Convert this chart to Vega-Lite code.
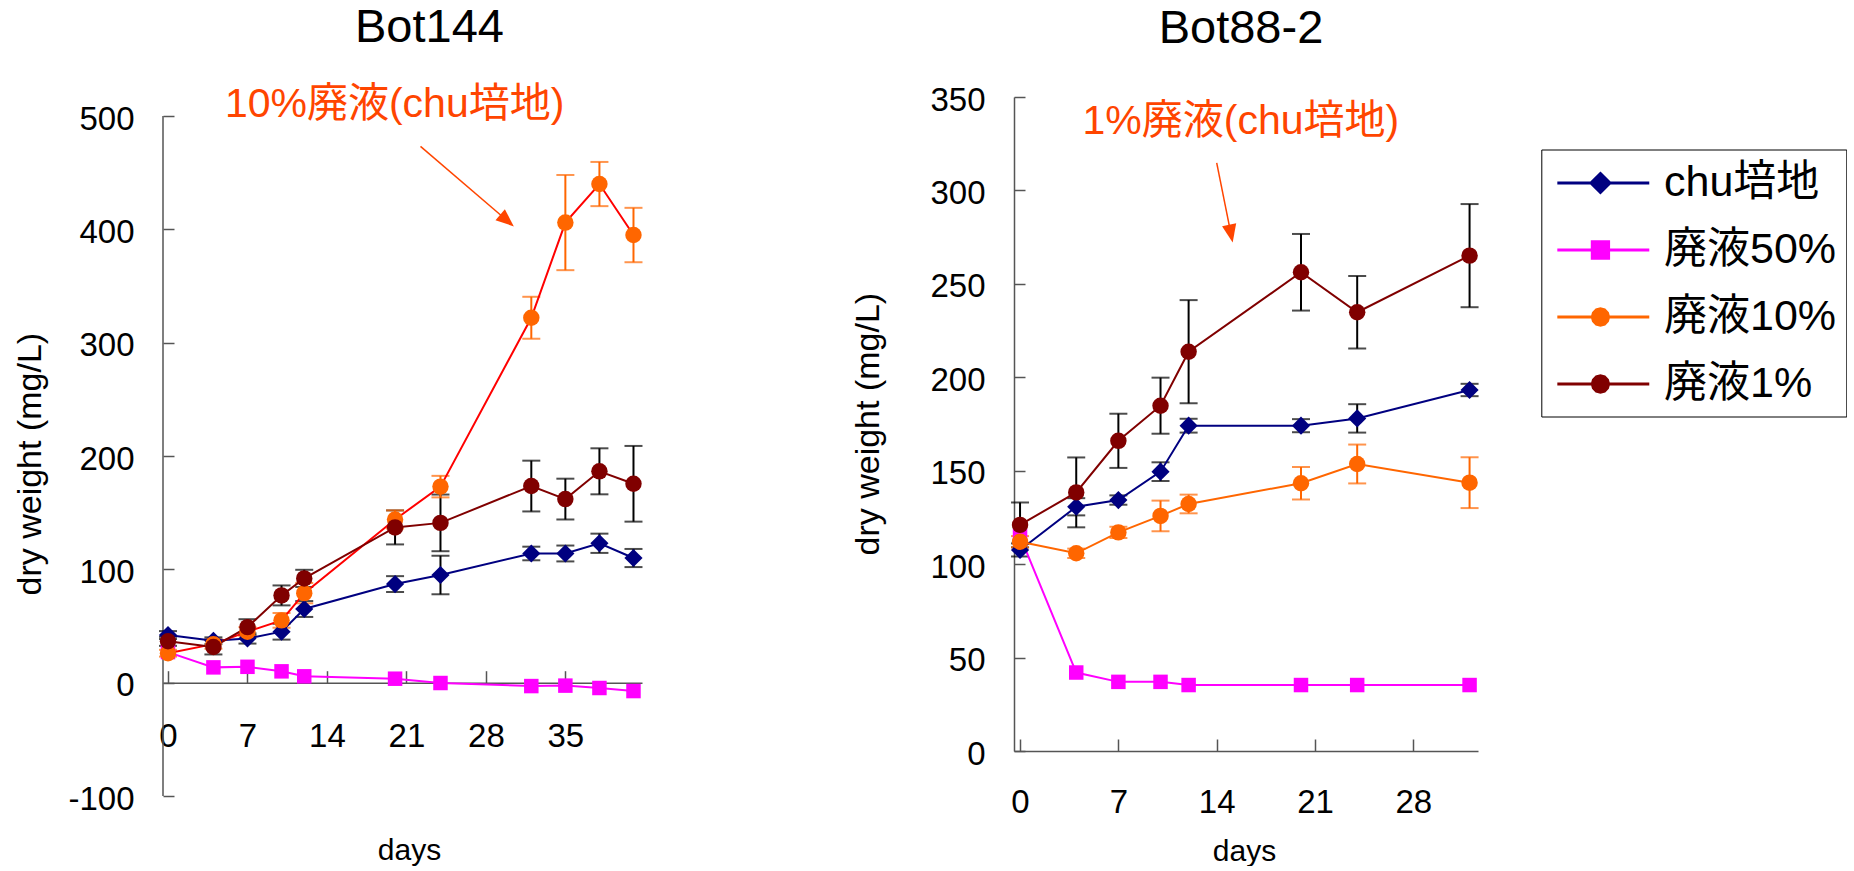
{
  "$schema": "https://vega.github.io/schema/vega-lite/v6.json",
  "padding": {"left": 13, "top": 4, "right": 0, "bottom": 0},
  "spacing": 207,
  "datasets": {
    "b144": [
      {"series": "chu培地", "day": 0, "value": 42, "err": 3.5},
      {"series": "chu培地", "day": 4, "value": 37, "err": 3},
      {"series": "chu培地", "day": 7, "value": 39, "err": 4.5},
      {"series": "chu培地", "day": 10, "value": 45, "err": 7},
      {"series": "chu培地", "day": 12, "value": 65, "err": 7},
      {"series": "chu培地", "day": 20, "value": 87, "err": 7},
      {"series": "chu培地", "day": 24, "value": 95, "err": 17},
      {"series": "chu培地", "day": 32, "value": 114, "err": 6},
      {"series": "chu培地", "day": 35, "value": 114, "err": 7},
      {"series": "chu培地", "day": 38, "value": 123, "err": 8.5},
      {"series": "chu培地", "day": 41, "value": 110, "err": 8},
      {"series": "廃液50%", "day": 0, "value": 27, "err": 1},
      {"series": "廃液50%", "day": 4, "value": 13.5, "err": 1},
      {"series": "廃液50%", "day": 7, "value": 14, "err": 1},
      {"series": "廃液50%", "day": 10, "value": 10, "err": 1},
      {"series": "廃液50%", "day": 12, "value": 5.6, "err": 1},
      {"series": "廃液50%", "day": 20, "value": 3.5, "err": 1},
      {"series": "廃液50%", "day": 24, "value": -0.3, "err": 1},
      {"series": "廃液50%", "day": 32, "value": -3, "err": 1},
      {"series": "廃液50%", "day": 35, "value": -2.6, "err": 1},
      {"series": "廃液50%", "day": 38, "value": -4.7, "err": 1},
      {"series": "廃液50%", "day": 41, "value": -7.4, "err": 1},
      {"series": "廃液10%", "day": 0, "value": 26, "err": 3},
      {"series": "廃液10%", "day": 4, "value": 34, "err": 4},
      {"series": "廃液10%", "day": 7, "value": 45, "err": 4},
      {"series": "廃液10%", "day": 10, "value": 55, "err": 6.5},
      {"series": "廃液10%", "day": 12, "value": 79, "err": 9},
      {"series": "廃液10%", "day": 20, "value": 144, "err": 8},
      {"series": "廃液10%", "day": 24, "value": 173, "err": 9.5},
      {"series": "廃液10%", "day": 32, "value": 322, "err": 18.5},
      {"series": "廃液10%", "day": 35, "value": 406, "err": 42},
      {"series": "廃液10%", "day": 38, "value": 440, "err": 19.5},
      {"series": "廃液10%", "day": 41, "value": 395, "err": 24},
      {"series": "廃液1%", "day": 0, "value": 36.5, "err": 4},
      {"series": "廃液1%", "day": 4, "value": 31.5, "err": 6.6},
      {"series": "廃液1%", "day": 7, "value": 49, "err": 7},
      {"series": "廃液1%", "day": 10, "value": 77, "err": 8.8},
      {"series": "廃液1%", "day": 12, "value": 92, "err": 7.6},
      {"series": "廃液1%", "day": 20, "value": 137, "err": 15},
      {"series": "廃液1%", "day": 24, "value": 141, "err": 25},
      {"series": "廃液1%", "day": 32, "value": 173.5, "err": 22.4},
      {"series": "廃液1%", "day": 35, "value": 162, "err": 18},
      {"series": "廃液1%", "day": 38, "value": 186.5, "err": 20.3},
      {"series": "廃液1%", "day": 41, "value": 175.5, "err": 33.4}
    ],
    "b88": [
      {"series": "chu培地", "day": 0, "value": 107.6, "err": 3.5},
      {"series": "chu培地", "day": 4, "value": 130.7, "err": 4.6},
      {"series": "chu培地", "day": 7, "value": 134.3, "err": 2.5},
      {"series": "chu培地", "day": 10, "value": 149.5, "err": 5},
      {"series": "chu培地", "day": 12, "value": 174.1, "err": 3.7},
      {"series": "chu培地", "day": 20, "value": 174.1, "err": 3.5},
      {"series": "chu培地", "day": 24, "value": 178, "err": 7.6},
      {"series": "chu培地", "day": 32, "value": 193.2, "err": 3.3},
      {"series": "廃液50%", "day": 0, "value": 115, "err": 1},
      {"series": "廃液50%", "day": 4, "value": 42, "err": 1},
      {"series": "廃液50%", "day": 7, "value": 37, "err": 1},
      {"series": "廃液50%", "day": 10, "value": 37, "err": 1},
      {"series": "廃液50%", "day": 12, "value": 35.3, "err": 1},
      {"series": "廃液50%", "day": 20, "value": 35.3, "err": 1},
      {"series": "廃液50%", "day": 24, "value": 35.3, "err": 1},
      {"series": "廃液50%", "day": 32, "value": 35.3, "err": 1},
      {"series": "廃液10%", "day": 0, "value": 112, "err": 3},
      {"series": "廃液10%", "day": 4, "value": 105.8, "err": 2.5},
      {"series": "廃液10%", "day": 7, "value": 117, "err": 3},
      {"series": "廃液10%", "day": 10, "value": 125.8, "err": 8.2},
      {"series": "廃液10%", "day": 12, "value": 132.2, "err": 5},
      {"series": "廃液10%", "day": 20, "value": 143.3, "err": 8.7},
      {"series": "廃液10%", "day": 24, "value": 153.6, "err": 10.4},
      {"series": "廃液10%", "day": 32, "value": 143.6, "err": 13.6},
      {"series": "廃液1%", "day": 0, "value": 121, "err": 12},
      {"series": "廃液1%", "day": 4, "value": 138.4, "err": 18.7},
      {"series": "廃液1%", "day": 7, "value": 166, "err": 14.5},
      {"series": "廃液1%", "day": 10, "value": 184.8, "err": 15},
      {"series": "廃液1%", "day": 12, "value": 213.7, "err": 27.6},
      {"series": "廃液1%", "day": 20, "value": 256.2, "err": 20.5},
      {"series": "廃液1%", "day": 24, "value": 234.8, "err": 19.4},
      {"series": "廃液1%", "day": 32, "value": 265.1, "err": 27.6}
    ]
  },
  "hconcat": [
    {
      "width": 479,
      "height": 699,
      "title": {"text": "Bot144", "fontSize": 47, "fontWeight": "normal", "font": "Liberation Sans", "color": "black", "anchor": "middle", "frame": "group", "dx": 27, "offset": 31.5},
      "layer": [
        {"data": {"values": [{}]}, "mark": {"type": "rule", "color": "#555", "strokeWidth": 1.5},
          "encoding": {"x": {"datum": -0.44, "type": "quantitative", "scale": {"domain": [-0.44, 41.75], "nice": false, "zero": false}},
            "y": {"datum": -100, "type": "quantitative", "scale": {"domain": [-100, 516.8], "nice": false, "zero": false}}, "y2": {"datum": 500}}},
        {"data": {"name": "b144"}, "transform": [{"filter": "datum.series === 'chu培地' || datum.series === '廃液1%'"}],
          "mark": {"type": "errorbar", "ticks": true, "size": 18, "thickness": 2, "color": "black"},
          "encoding": {"x": {"field": "day", "type": "quantitative", "title": "days", "scale": {"domain": [-0.44, 41.75], "nice": false, "zero": false}},
            "y": {"field": "value", "type": "quantitative", "title": "dry weight (mg/L)", "scale": {"domain": [-100, 516.8], "nice": false, "zero": false}},
            "yError": {"field": "err"}}},
        {"data": {"name": "b144"}, "transform": [{"filter": "datum.series === '廃液10%'"}],
          "mark": {"type": "errorbar", "ticks": true, "size": 18, "thickness": 2, "color": "#FF6600"},
          "encoding": {"x": {"field": "day", "type": "quantitative", "title": "days", "scale": {"domain": [-0.44, 41.75], "nice": false, "zero": false}},
            "y": {"field": "value", "type": "quantitative", "title": "dry weight (mg/L)", "scale": {"domain": [-100, 516.8], "nice": false, "zero": false}},
            "yError": {"field": "err"}}},
        {"data": {"name": "b144"},
          "mark": {"type": "line", "strokeWidth": 2},
          "encoding": {
            "x": {"field": "day", "type": "quantitative", "title": "days", "scale": {"domain": [-0.44, 41.75], "nice": false, "zero": false},
              "axis": {"values": [0, 7, 14, 21, 28, 35], "offset": -113.3, "tickSize": -12, "labelPadding": 50, "labelFontSize": 33,
                "title": "days", "titleFontSize": 30, "titleX": 246, "titleY": 177, "titleBaseline": "alphabetic", "titleAlign": "center", "titleAngle": 0}},
            "y": {"field": "value", "type": "quantitative", "title": "dry weight (mg/L)", "scale": {"domain": [-100, 516.8], "nice": false, "zero": false},
              "axis": {"values": [-100, 0, 100, 200, 300, 400, 500], "labelExpr": "replace(datum.label, '−', '-')", "domain": false, "tickSize": -11, "labelPadding": 40, "labelOffset": 3, "labelFontSize": 33,
                "title": "dry weight (mg/L)", "titleFontSize": 34, "titleAngle": 270, "titleBaseline": "alphabetic", "titleAlign": "center", "titleX": -122.7, "titleY": 366.7}},
            "detail": {"field": "series"},
            "color": {"condition": [{"test": "datum.series === 'chu培地'", "value": "#000080"}, {"test": "datum.series === '廃液50%'", "value": "#FF00FF"}, {"test": "datum.series === '廃液10%'", "value": "#FF0000"}], "value": "#800000"}
          }},
        {"data": {"name": "b144"},
          "mark": {"type": "point", "filled": true, "opacity": 1},
          "encoding": {
            "x": {"field": "day", "type": "quantitative", "title": "days", "scale": {"domain": [-0.44, 41.75], "nice": false, "zero": false}},
            "y": {"field": "value", "type": "quantitative", "title": "dry weight (mg/L)", "scale": {"domain": [-100, 516.8], "nice": false, "zero": false}},
            "color": {"condition": [{"test": "datum.series === 'chu培地'", "value": "#000080"}, {"test": "datum.series === '廃液50%'", "value": "#FF00FF"}, {"test": "datum.series === '廃液10%'", "value": "#FF6600"}], "value": "#800000"},
            "shape": {"condition": [{"test": "datum.series === 'chu培地'", "value": "diamond"}, {"test": "datum.series === '廃液50%'", "value": "square"}], "value": "circle"},
            "size": {"condition": [{"test": "datum.series === 'chu培地'", "value": 330}, {"test": "datum.series === '廃液50%'", "value": 210}], "value": 270}
          }},
        {"data": {"values": [{}]},
          "mark": {"type": "text", "text": "10%廃液(chu培地)", "color": "#FF4500", "fontSize": 41, "font": "'Liberation Sans', 'Noto Sans CJK JP', sans-serif", "align": "center", "baseline": "middle"},
          "encoding": {"x": {"datum": 19.96, "type": "quantitative"}, "y": {"datum": 510, "type": "quantitative"}}},
        {"data": {"values": [{}]},
          "mark": {"type": "rule", "color": "#FF4500", "strokeWidth": 1.5},
          "encoding": {"x": {"datum": 22.24, "type": "quantitative"}, "y": {"datum": 473.2, "type": "quantitative"}, "x2": {"datum": 29.86}, "y2": {"datum": 407.8}}},
        {"data": {"values": [{}]},
          "mark": {"type": "point", "shape": "M1,0L-1,-0.8L-1,0.8Z", "size": 324, "angle": 40.6, "filled": true, "color": "#FF4500", "opacity": 1},
          "encoding": {"x": {"datum": 29.86, "type": "quantitative"}, "y": {"datum": 407.8, "type": "quantitative"}}}
      ]
    },
    {
      "width": 464,
      "height": 654,
      "title": {"text": "Bot88-2", "fontSize": 47, "fontWeight": "normal", "font": "Liberation Sans", "color": "black", "anchor": "middle", "frame": "group", "dx": -5, "offset": 31},
      "layer": [
        {"data": {"name": "b88"}, "transform": [{"filter": "datum.series === 'chu培地' || datum.series === '廃液1%'"}],
          "mark": {"type": "errorbar", "ticks": true, "size": 18, "thickness": 2, "color": "black"},
          "encoding": {"x": {"field": "day", "type": "quantitative", "title": "days", "scale": {"domain": [-0.43, 32.6], "nice": false, "zero": false}},
            "y": {"field": "value", "type": "quantitative", "title": "dry weight (mg/L)", "scale": {"domain": [0, 350], "nice": false, "zero": false}},
            "yError": {"field": "err"}}},
        {"data": {"name": "b88"}, "transform": [{"filter": "datum.series === '廃液10%'"}],
          "mark": {"type": "errorbar", "ticks": true, "size": 18, "thickness": 2, "color": "#FF6600"},
          "encoding": {"x": {"field": "day", "type": "quantitative", "title": "days", "scale": {"domain": [-0.43, 32.6], "nice": false, "zero": false}},
            "y": {"field": "value", "type": "quantitative", "title": "dry weight (mg/L)", "scale": {"domain": [0, 350], "nice": false, "zero": false}},
            "yError": {"field": "err"}}},
        {"data": {"name": "b88"},
          "mark": {"type": "line", "strokeWidth": 2},
          "encoding": {
            "x": {"field": "day", "type": "quantitative", "title": "days", "scale": {"domain": [-0.43, 32.6], "nice": false, "zero": false},
              "axis": {"values": [0, 7, 14, 21, 28], "tickSize": -12, "labelPadding": 47, "labelFontSize": 33,
                "title": "days", "titleFontSize": 30, "titleX": 230, "titleY": 109, "titleBaseline": "alphabetic", "titleAlign": "center", "titleAngle": 0}},
            "y": {"field": "value", "type": "quantitative", "title": "dry weight (mg/L)", "scale": {"domain": [0, 350], "nice": false, "zero": false},
              "axis": {"values": [0, 50, 100, 150, 200, 250, 300, 350], "tickSize": -11, "labelPadding": 40, "labelOffset": 3, "labelFontSize": 33,
                "title": "dry weight (mg/L)", "titleFontSize": 34, "titleAngle": 270, "titleBaseline": "alphabetic", "titleAlign": "center", "titleX": -136, "titleY": 326.7}},
            "detail": {"field": "series"},
            "color": {"condition": [{"test": "datum.series === 'chu培地'", "value": "#000080"}, {"test": "datum.series === '廃液50%'", "value": "#FF00FF"}, {"test": "datum.series === '廃液10%'", "value": "#FF6600"}], "value": "#800000"}
          }},
        {"data": {"name": "b88"},
          "mark": {"type": "point", "filled": true, "opacity": 1},
          "encoding": {
            "x": {"field": "day", "type": "quantitative", "title": "days", "scale": {"domain": [-0.43, 32.6], "nice": false, "zero": false}},
            "y": {"field": "value", "type": "quantitative", "title": "dry weight (mg/L)", "scale": {"domain": [0, 350], "nice": false, "zero": false}},
            "color": {"condition": [{"test": "datum.series === 'chu培地'", "value": "#000080"}, {"test": "datum.series === '廃液50%'", "value": "#FF00FF"}, {"test": "datum.series === '廃液10%'", "value": "#FF6600"}], "value": "#800000"},
            "shape": {"condition": [{"test": "datum.series === 'chu培地'", "value": "diamond"}, {"test": "datum.series === '廃液50%'", "value": "square"}], "value": "circle"},
            "size": {"condition": [{"test": "datum.series === 'chu培地'", "value": 330}, {"test": "datum.series === '廃液50%'", "value": 210}], "value": 270}
          }},
        {"data": {"name": "b88"}, "transform": [{"filter": "datum.day === 0"}],
          "mark": {"type": "point", "filled": true, "invalid": "filter"},
          "encoding": {
            "x": {"field": "nodraw", "type": "quantitative", "title": "days", "scale": {"domain": [-0.43, 32.6], "nice": false, "zero": false}},
            "y": {"field": "value", "type": "quantitative", "title": "dry weight (mg/L)", "scale": {"domain": [0, 350], "nice": false, "zero": false}},
            "color": {"field": "series", "type": "nominal", "scale": {"domain": ["chu培地", "廃液50%", "廃液10%", "廃液1%"], "range": ["#000080", "#FF00FF", "#FF6600", "#800000"]},
              "legend": {"title": null, "orient": "none", "legendX": 1378.3, "legendY": 52.5, "padding": 10, "strokeColor": "black", "fillColor": "white",
                "rowPadding": 21, "symbolOffset": 28.5, "labelOffset": 37.2, "labelFontSize": 43, "labelFont": "'Liberation Sans', 'Noto Sans CJK JP', sans-serif", "labelColor": "black", "labelLimit": 500,
                "symbolSize": 1936, "symbolStrokeWidth": 3, "symbolOpacity": 1}},
            "stroke": {"field": "series", "type": "nominal", "scale": {"domain": ["chu培地", "廃液50%", "廃液10%", "廃液1%"], "range": ["#000080", "#FF00FF", "#FF6600", "#800000"]},
              "legend": {"title": null, "orient": "none", "legendX": 1378.3, "legendY": 52.5, "padding": 10, "strokeColor": "black", "fillColor": "white",
                "rowPadding": 21, "symbolOffset": 28.5, "labelOffset": 37.2, "labelFontSize": 43, "labelFont": "'Liberation Sans', 'Noto Sans CJK JP', sans-serif", "labelColor": "black", "labelLimit": 500,
                "symbolSize": 1936, "symbolStrokeWidth": 3, "symbolOpacity": 1}},
            "shape": {"field": "series", "type": "nominal", "scale": {"domain": ["chu培地", "廃液50%", "廃液10%", "廃液1%"],
                "range": ["M-2.09,0H2.09M-0.13,-0.43L0.3,0L-0.13,0.43L-0.56,0Z", "M-2.09,0H2.09M-0.5,-0.37H0.24V0.37H-0.5Z", "M-2.09,0H2.09M0.24,0L0.19,0.185L0.055,0.32L-0.13,0.37L-0.315,0.32L-0.45,0.185L-0.5,0L-0.45,-0.185L-0.315,-0.32L-0.13,-0.37L0.055,-0.32L0.19,-0.185Z", "M-2.09,0H2.09M0.24,0L0.19,0.185L0.055,0.32L-0.13,0.37L-0.315,0.32L-0.45,0.185L-0.5,0L-0.45,-0.185L-0.315,-0.32L-0.13,-0.37L0.055,-0.32L0.19,-0.185Z"]},
              "legend": {"title": null, "orient": "none", "legendX": 1378.3, "legendY": 52.5, "padding": 10, "strokeColor": "black", "fillColor": "white",
                "rowPadding": 21, "symbolOffset": 28.5, "labelOffset": 37.2, "labelFontSize": 43, "labelFont": "'Liberation Sans', 'Noto Sans CJK JP', sans-serif", "labelColor": "black", "labelLimit": 500,
                "symbolSize": 1936, "symbolStrokeWidth": 3, "symbolOpacity": 1}}
          }},
        {"data": {"values": [{}]},
          "mark": {"type": "text", "text": "1%廃液(chu培地)", "color": "#FF4500", "fontSize": 41, "font": "'Liberation Sans', 'Noto Sans CJK JP', sans-serif", "align": "center", "baseline": "middle"},
          "encoding": {"x": {"datum": 15.72, "type": "quantitative"}, "y": {"datum": 336.8, "type": "quantitative"}}},
        {"data": {"values": [{}]},
          "mark": {"type": "rule", "color": "#FF4500", "strokeWidth": 1.5},
          "encoding": {"x": {"datum": 14.0, "type": "quantitative"}, "y": {"datum": 314.7, "type": "quantitative"}, "x2": {"datum": 15.01}, "y2": {"datum": 276.9}}},
        {"data": {"values": [{}]},
          "mark": {"type": "point", "shape": "M1,0L-1,-0.8L-1,0.8Z", "size": 324, "angle": 78.6, "filled": true, "color": "#FF4500", "opacity": 1},
          "encoding": {"x": {"datum": 15.01, "type": "quantitative"}, "y": {"datum": 276.9, "type": "quantitative"}}}
      ]
    }
  ],
  "config": {
    "view": {"stroke": null},
    "font": "Liberation Sans",
    "axis": {"grid": false, "domainColor": "#555", "tickColor": "#555", "domainWidth": 1.5, "tickWidth": 1.5,
      "labelColor": "black", "titleColor": "black", "labelFont": "Liberation Sans", "titleFont": "Liberation Sans",
      "titleFontWeight": "normal", "labelFlush": false, "labelOverlap": false}
  }
}
